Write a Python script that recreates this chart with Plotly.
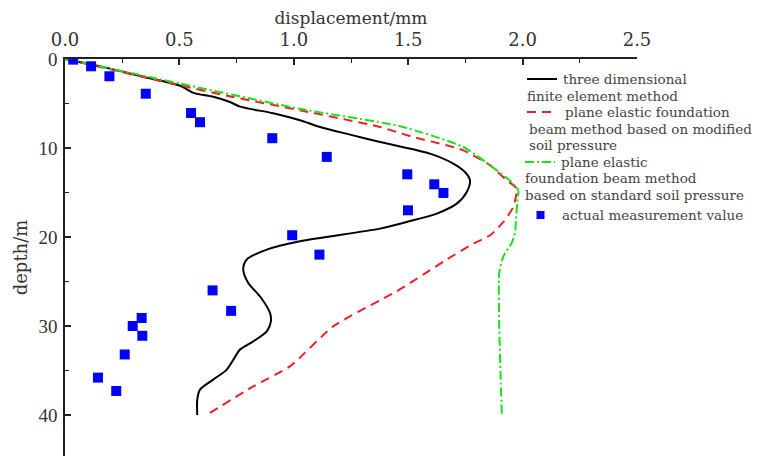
import plotly.graph_objects as go

# ---- data ----
fem_disp = [0, 0.197, 0.357, 0.503, 0.561, 0.648, 0.721, 0.765, 0.91, 1.027, 1.115, 1.246, 1.377,
            1.595, 1.697, 1.748, 1.770, 1.756, 1.712, 1.625, 1.493, 1.377, 1.027, 0.882, 0.794,
            0.779, 0.801, 0.852, 0.896, 0.900, 0.882, 0.823, 0.765, 0.736, 0.707, 0.648, 0.590,
            0.578, 0.578]
fem_depth = [0, 1.08, 2.09, 3.0, 3.8, 4.25, 4.83, 5.35, 6.1, 6.89, 7.64, 8.5, 9.33,
             10.63, 11.75, 12.7, 13.63, 14.94, 16.25, 17.37, 18.31, 19.06, 20.48, 21.42, 22.54,
             23.66, 25.17, 26.66, 28.54, 29.47, 30.6, 31.72, 32.65, 33.78, 34.9, 36.02, 37.15,
             38.27, 40.0]

mod_disp = [0, 0.503, 0.734, 1.027, 1.377, 1.521, 1.668, 1.741, 1.858, 1.930, 1.974, 1.959,
            1.916, 1.858, 1.785, 1.668, 1.566, 1.450, 1.377, 1.173, 0.983, 0.823, 0.619]
mod_depth = [0, 2.96, 4.27, 5.76, 7.64, 8.76, 9.7, 10.26, 11.94, 13.63, 14.56, 16.63,
             18.31, 19.81, 20.74, 22.54, 24.22, 26.1, 27.11, 30.03, 34.53, 36.78, 40.0]

std_disp = [0, 0.503, 1.027, 1.464, 1.741, 1.887, 1.952, 1.981, 1.977, 1.971, 1.967, 1.952,
            1.916, 1.898, 1.898, 1.904, 1.909]
std_depth = [0, 2.76, 5.6, 7.56, 9.89, 12.51, 13.82, 14.75, 16.07, 18.12, 19.55, 20.67,
             22.17, 24.04, 30.03, 35.65, 40.0]

meas_disp = [0.036, 0.114, 0.194, 0.353, 0.551, 0.59, 0.906, 1.144, 1.496, 1.614, 1.654, 1.499,
             0.993, 1.112, 0.645, 0.726, 0.335, 0.296, 0.338, 0.261, 0.144, 0.224]
meas_depth = [0.07, 0.82, 1.94, 3.9, 6.07, 7.1, 8.9, 11.0, 12.96, 14.08, 15.05, 17.0,
              19.8, 21.98, 26.0, 28.3, 29.1, 30.0, 31.1, 33.2, 35.8, 37.3]

legend_lines = [
    ["three dimensional", "finite element method"],
    ["plane elastic foundation", "beam method based on modified", "soil pressure"],
    ["plane elastic", "foundation beam method", "based on standard soil pressure"],
    ["actual measurement value"],
]
x_ticks = [0, 0.5, 1.0, 1.5, 2.0, 2.5]
y_ticks = [0, 10, 20, 30, 40]

# ---- figure ----
W, H = 758, 456
ML, MR, MT, MB = 65, 121, 59, 0
PW, PH = W - ML - MR, H - MT - MB


def px(x):
    return (x - ML) / PW


def py(y):
    return (H - MB - y) / PH


RED = "#F01E28"
GREEN = "#19E019"
BLUE = "#0000FF"
TXT = "#333333"

fig = go.Figure()
fig.add_trace(go.Scatter(x=fem_disp, y=fem_depth, mode="lines",
                         line=dict(color="black", width=2, shape="spline", smoothing=0.8),
                         name="three dimensional finite element method", showlegend=False))
fig.add_trace(go.Scatter(x=mod_disp, y=mod_depth, mode="lines",
                         line=dict(color=RED, width=2, dash="9px,6px", shape="spline", smoothing=0.6),
                         name="modified", showlegend=False))
fig.add_trace(go.Scatter(x=std_disp, y=std_depth, mode="lines",
                         line=dict(color=GREEN, width=2, dash="9px,3px,2px,3px", shape="spline", smoothing=0.6),
                         name="standard", showlegend=False))
fig.add_trace(go.Scatter(x=meas_disp, y=meas_depth, mode="markers",
                         marker=dict(symbol="square", size=10, color=BLUE, line=dict(width=0)),
                         name="actual measurement value", showlegend=False))

# ---- manual legend (hanging indent like the reference) ----
LF = dict(family="DejaVu Serif", size=13.5, color="#444444")
shapes = []
annotations = []


def add_text(x, y, text):
    annotations.append(dict(x=px(x), y=py(y), xref="paper", yref="paper", text=text,
                            showarrow=False, xanchor="left", yanchor="middle", font=LF,
                            borderpad=0))


# entry 1 - black solid
shapes.append(dict(type="line", xref="paper", yref="paper", x0=px(527), x1=px(557), y0=py(79), y1=py(79),
                   line=dict(color="black", width=2)))
add_text(562, 79, legend_lines[0][0])
add_text(526, 96, legend_lines[0][1])
# entry 2 - red dashed
shapes.append(dict(type="line", xref="paper", yref="paper", x0=px(527), x1=px(557), y0=py(112), y1=py(112),
                   line=dict(color=RED, width=2, dash="9px,6px")))
add_text(564, 112, legend_lines[1][0])
add_text(528, 129, legend_lines[1][1])
add_text(528, 145, legend_lines[1][2])
# entry 3 - green dash-dot
shapes.append(dict(type="line", xref="paper", yref="paper", x0=px(525), x1=px(555), y0=py(162), y1=py(162),
                   line=dict(color=GREEN, width=2, dash="9px,3px,2px,3px")))
add_text(560, 162, legend_lines[2][0])
add_text(524, 178, legend_lines[2][1])
add_text(524, 195, legend_lines[2][2])
# entry 4 - blue square
shapes.append(dict(type="rect", xref="paper", yref="paper", x0=px(536.5), x1=px(544.5), y0=py(219), y1=py(211),
                   fillcolor=BLUE, line=dict(width=0)))
add_text(561, 215, legend_lines[3][0])

fig.update_layout(
    width=W, height=H,
    margin=dict(l=ML, r=MR, t=MT, b=MB, pad=0, autoexpand=False),
    paper_bgcolor="white", plot_bgcolor="white",
    showlegend=False,
    shapes=shapes, annotations=annotations,
    xaxis=dict(
        side="top", range=[0, 2.5], tickvals=x_ticks, tickformat=".1f", automargin=False,
        showgrid=False, zeroline=False, showline=True, linecolor="#222222", linewidth=1.5,
        ticks="inside", ticklen=6, tickwidth=1.5, tickcolor="#222222", ticklabelstandoff=4,
        minor=dict(ticks="inside", ticklen=4, tickwidth=1.2, dtick=0.25, tickcolor="#222222"),
        tickfont=dict(family="DejaVu Serif", size=18, color=TXT),
        title=dict(text="displacement/mm", font=dict(family="DejaVu Serif", size=17, color=TXT), standoff=0),
    ),
    yaxis=dict(
        range=[(H - MT - MB) / 8.9, 0], tickvals=y_ticks, automargin=False,
        showgrid=False, zeroline=False, showline=True, linecolor="#222222", linewidth=1.5,
        ticks="inside", ticklen=6, tickwidth=1.5, tickcolor="#222222", ticklabelstandoff=2,
        minor=dict(ticks="inside", ticklen=4, tickwidth=1.2, dtick=5, tickcolor="#222222"),
        tickfont=dict(family="Liberation Serif", size=19, color=TXT),
        title=dict(text="depth/m", font=dict(family="DejaVu Serif", size=18, color=TXT), standoff=6),
    ),
)

# the default page adds an 8px body margin; remove it so the figure fills the window exactly
fig.write_html("out.html", config={"displayModeBar": False},
               post_script="document.body.style.margin='0';document.body.style.overflow='hidden';")
